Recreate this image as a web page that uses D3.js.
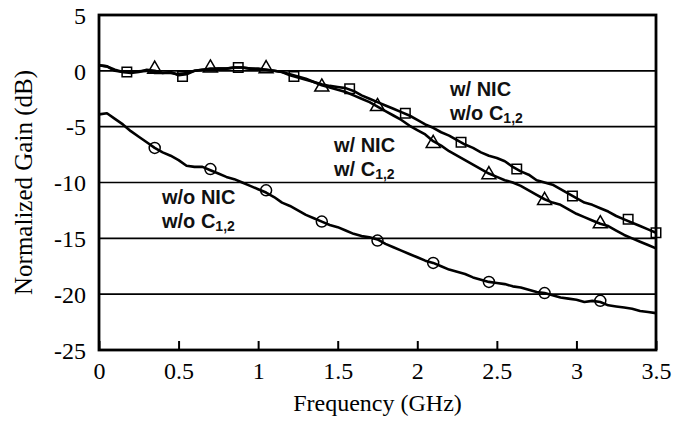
<!DOCTYPE html>
<html>
<head>
<meta charset="utf-8">
<script src="https://cdn.jsdelivr.net/npm/d3@7"></script>
<style>
  body { margin: 0; background: #fff; }
  .tick text { font-family: "Liberation Serif", "Times New Roman", serif; font-size: 24px; fill: #000; }
  .note { font-family: "Liberation Sans", Arial, sans-serif; font-weight: bold; font-size: 20px; fill: #111; }
</style>
</head>
<body>
<svg id="chart" width="689" height="421"></svg>
<script>
// frequency samples (GHz)
const freq = [0, 0.05, 0.1, 0.15, 0.2, 0.25, 0.3, 0.35, 0.4, 0.45, 0.5, 0.55, 0.6, 0.65, 0.7, 0.75, 0.8, 0.85, 0.9, 0.95,
  1.0, 1.05, 1.1, 1.15, 1.2, 1.25, 1.3, 1.35, 1.4, 1.45, 1.5, 1.55, 1.6, 1.65, 1.7, 1.75, 1.8, 1.85, 1.9, 1.95,
  2.0, 2.05, 2.1, 2.15, 2.2, 2.25, 2.3, 2.35, 2.4, 2.45, 2.5, 2.55, 2.6, 2.65, 2.7, 2.75, 2.8, 2.85, 2.9, 2.95,
  3.0, 3.05, 3.1, 3.15, 3.2, 3.25, 3.3, 3.35, 3.4, 3.45, 3.5];

// w/ NIC, w/o C1,2
const gainNicNoC = [0.5, 0.4, 0.0, -0.1, -0.1, -0.05, 0.0, -0.2, -0.2, -0.1, -0.4, -0.3, 0.0, 0.1, 0.1, 0.2, 0.2, 0.3, 0.3, 0.2,
  0.1, 0.1, 0.0, -0.1, -0.4, -0.6, -0.8, -1.0, -1.2, -1.35, -1.45, -1.55, -1.8, -2.2, -2.5, -2.8, -3.1, -3.4, -3.7, -4.0,
  -4.4, -4.8, -5.1, -5.5, -5.8, -6.2, -6.6, -6.9, -7.3, -7.6, -7.8, -8.1, -8.6, -9.0, -9.3, -9.8, -10.0, -10.2, -10.6, -11.0,
  -11.4, -11.8, -12.0, -12.3, -12.6, -13.0, -13.3, -13.6, -13.9, -14.2, -14.5];

// w/ NIC, w/ C1,2
const gainNicC = [0.5, 0.4, 0.1, -0.1, -0.2, -0.1, 0.1, 0.0, -0.2, -0.2, -0.3, -0.2, 0.0, 0.1, 0.2, 0.2, 0.2, 0.3, 0.3, 0.2,
  0.2, 0.1, 0.0, -0.1, -0.3, -0.5, -0.7, -1.0, -1.3, -1.5, -1.7, -1.9, -2.2, -2.5, -2.8, -3.2, -3.6, -4.0, -4.4, -4.9,
  -5.3, -5.7, -6.3, -6.7, -7.2, -7.6, -8.0, -8.4, -8.8, -9.2, -9.5, -9.8, -10.0, -10.3, -10.7, -11.1, -11.5, -11.8, -12.0, -12.4,
  -12.8, -13.1, -13.4, -13.7, -13.9, -14.3, -14.7, -15.0, -15.3, -15.6, -15.9];

// w/o NIC, w/o C1,2
const gainNoNic = [-3.9, -3.8, -4.3, -4.8, -5.4, -5.9, -6.4, -6.9, -7.3, -7.6, -8.0, -8.5, -8.6, -8.6, -8.9, -9.2, -9.5, -9.7, -10.0, -10.3,
  -10.6, -10.9, -11.3, -11.8, -12.1, -12.5, -12.9, -13.2, -13.5, -13.8, -14.0, -14.3, -14.6, -14.8, -14.9, -15.1, -15.5, -15.8, -16.1, -16.4,
  -16.7, -17.0, -17.2, -17.5, -17.8, -18.0, -18.2, -18.5, -18.7, -18.9, -19.0, -19.1, -19.3, -19.4, -19.6, -19.8, -19.9, -20.1, -20.3, -20.4,
  -20.5, -20.7, -20.6, -20.7, -21.0, -21.1, -21.2, -21.3, -21.5, -21.6, -21.7];

// marker positions
const squareFreq = [0.175, 0.525, 0.875, 1.225, 1.575, 1.925, 2.275, 2.625, 2.975, 3.325, 3.5];
const squareGain = [-0.1, -0.5, 0.3, -0.5, -1.6, -3.8, -6.4, -8.8, -11.2, -13.3, -14.5];
const triFreq = [0.35, 0.7, 1.05, 1.4, 1.75, 2.1, 2.45, 2.8, 3.15];
const triGain = [0.15, 0.25, 0.2, -1.45, -3.2, -6.5, -9.3, -11.6, -13.7];
const circFreq = [0.35, 0.7, 1.05, 1.4, 1.75, 2.1, 2.45, 2.8, 3.15];
const circGain = [-6.9, -8.8, -10.7, -13.5, -15.2, -17.2, -18.9, -19.9, -20.6];

const xTicks = [0, 0.5, 1, 1.5, 2, 2.5, 3, 3.5];
const yTicks = [5, 0, -5, -10, -15, -20, -25];
const gridLines = [0, -5, -10, -15, -20];

const svg = d3.select('#chart');
const margin = { top: 15, right: 33, bottom: 71, left: 99 };
const width = 689, height = 421;

const x = d3.scaleLinear().domain([0, 3.5]).range([margin.left, width - margin.right]);
const y = d3.scaleLinear().domain([-25, 5]).range([height - margin.bottom, margin.top]);

// horizontal grid
svg.append('g')
  .selectAll('line')
  .data(gridLines)
  .join('line')
  .attr('x1', x(0)).attr('x2', x(3.5))
  .attr('y1', d => y(d)).attr('y2', d => y(d))
  .attr('stroke', '#000').attr('stroke-width', 1.6);

// x axis, ticks pointing inward
const xAxis = d3.axisBottom(x).tickValues(xTicks).tickSizeInner(-9).tickSizeOuter(0).tickPadding(12)
  .tickFormat(d => String(d));
const gx = svg.append('g').attr('transform', `translate(0,${y(-25)})`).call(xAxis);
gx.select('.domain').remove();
gx.selectAll('.tick line').attr('stroke', '#000').attr('stroke-width', 2);

const yAxis = d3.axisLeft(y).tickValues(yTicks).tickSize(0).tickPadding(13).tickFormat(d => String(d));
const gy = svg.append('g').attr('transform', `translate(${x(0)},0)`).call(yAxis);
gy.select('.domain').remove();
gy.selectAll('.tick text').attr('dy', '0.34em');

// frame
svg.append('rect')
  .attr('x', x(0)).attr('y', y(5))
  .attr('width', x(3.5) - x(0)).attr('height', y(-25) - y(5))
  .attr('fill', 'none').attr('stroke', '#000').attr('stroke-width', 2.8);

// curves
const line = d3.line().x((d, i) => x(freq[i])).y(d => y(d));
[gainNicNoC, gainNicC, gainNoNic].forEach(s => {
  svg.append('path')
    .datum(s)
    .attr('fill', 'none')
    .attr('stroke', '#000')
    .attr('stroke-width', 2.6)
    .attr('stroke-linejoin', 'round')
    .attr('d', line);
});

// markers
function markers(fs, gs, type, size) {
  svg.append('g')
    .selectAll('path')
    .data(fs)
    .join('path')
    .attr('transform', (d, i) => `translate(${x(d)},${y(gs[i])})`)
    .attr('d', d3.symbol().type(type).size(size))
    .attr('fill', 'none')
    .attr('stroke', '#000')
    .attr('stroke-width', 1.5);
}
markers(squareFreq, squareGain, d3.symbolSquare, 90);
markers(triFreq, triGain, d3.symbolTriangle, 85);
markers(circFreq, circGain, d3.symbolCircle, 95);

// annotations
function note(tx, ty, a, b) {
  svg.append('text').attr('class', 'note').attr('x', tx).attr('y', ty).text(a);
  const t = svg.append('text').attr('class', 'note').attr('x', tx).attr('y', ty + 24);
  t.append('tspan').text(b);
  t.append('tspan').attr('font-size', '14px').attr('dy', 3).text('1,2');
}
note(450, 96, 'w/ NIC', 'w/o C');
note(334, 152, 'w/ NIC', 'w/ C');
note(162, 204, 'w/o NIC', 'w/o C');

// axis titles
svg.append('text')
  .attr('x', (x(0) + x(3.5)) / 2).attr('y', 411)
  .attr('text-anchor', 'middle')
  .style('font-family', '"Liberation Serif", "Times New Roman", serif')
  .style('font-size', '24px')
  .text('Frequency (GHz)');

svg.append('text')
  .attr('transform', `translate(32,${(y(5) + y(-25)) / 2}) rotate(-90)`)
  .attr('text-anchor', 'middle')
  .style('font-family', '"Liberation Serif", "Times New Roman", serif')
  .style('font-size', '25px')
  .text('Normalized Gain (dB)');
</script>
</body>
</html>
